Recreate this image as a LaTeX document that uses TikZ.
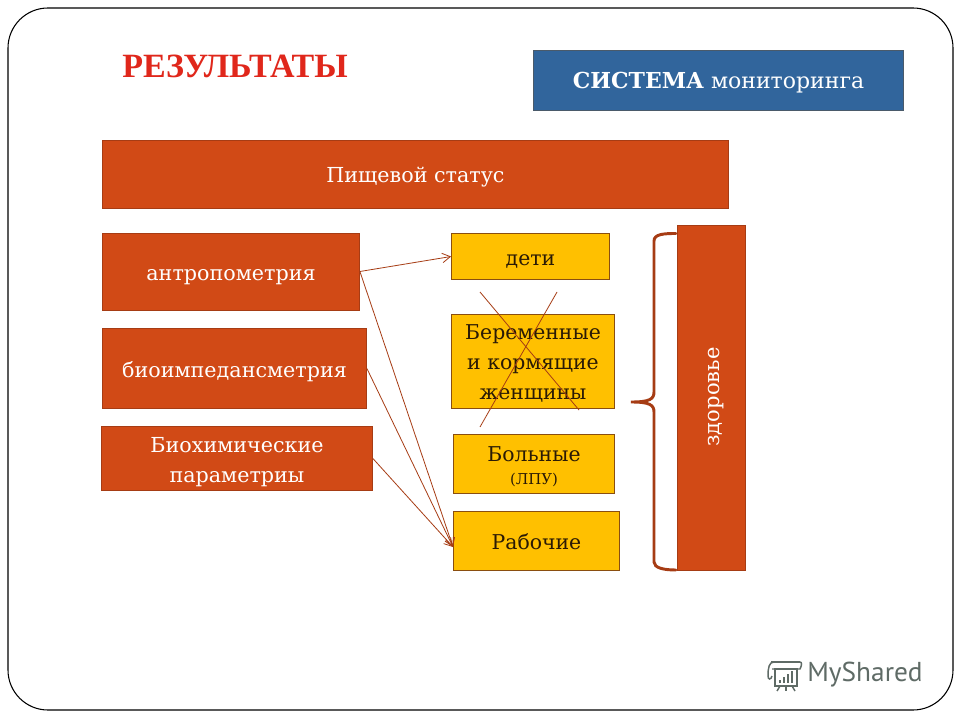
\documentclass[tikz,border=0pt]{standalone}
\usepackage{fontspec}
\setmainfont{DejaVu Serif}
\newfontfamily\titlefont{Liberation Serif}
\newfontfamily\logofont{PT Sans}
\usetikzlibrary{arrows.meta}
\definecolor{rust}{HTML}{D14A16}
\definecolor{rustline}{HTML}{A63C14}
\definecolor{amber}{HTML}{FFC000}
\definecolor{amberline}{HTML}{8A4E10}
\definecolor{steel}{HTML}{31659C}
\definecolor{steelline}{HTML}{4A5A6A}
\definecolor{titlered}{HTML}{E0271B}
\definecolor{logogray}{HTML}{5F6B66}
\definecolor{inktext}{HTML}{2A1A05}
\newcommand{\linesof}[1]{\raisebox{-5.8pt}[0pt][0pt]{\begin{tabular}{@{}c@{}}#1\end{tabular}}}
\tikzset{
  px/.style={x=0.75pt,y=-0.75pt},
  rustbox/.style={draw=rustline,line width=0.6pt,fill=rust,text=white,inner sep=0pt,font=\fontsize{15.5}{22.5}\selectfont},
  amberbox/.style={draw=amberline,line width=0.6pt,fill=amber,text=inktext,inner sep=0pt,font=\fontsize{15.3}{22.5}\selectfont},
  conn/.style={draw=rustline,line width=0.6pt,-{Straight Barb[length=6pt,width=7pt]}},
  crossline/.style={draw=rustline,line width=0.6pt},
  bracestroke/.style={draw=rustline,line width=2.2pt,line cap=round},
}
\begin{document}
\begin{tikzpicture}[px]
\useasboundingbox (0,0) rectangle (960,720);
\fill[white] (0,0) rectangle (960,720);
\draw[black,line width=0.8pt,rounded corners=30pt] (8,8) rectangle (953,710);

\node[text=titlered,font=\titlefont\fontsize{25.5}{30}\selectfont\bfseries] (title) at (235,66) {РЕЗУЛЬТАТЫ};
\node[draw=steelline,line width=0.6pt,fill=steel,text=white,inner sep=0pt,minimum width=277.5pt,minimum height=45pt,font=\fontsize{16.5}{22.5}\selectfont] (sys) at (718.5,80.5) {\linesof{\textbf{СИСТЕМА} мониторинга}};

\node[rustbox,minimum width=469.5pt,minimum height=51pt] (status) at (415.5,174) {\linesof{Пищевой статус}};
\node[rustbox,minimum width=192.75pt,minimum height=57.75pt] (anthro) at (231,271.5) {\linesof{антропометрия}};
\node[rustbox,minimum width=198pt,minimum height=60pt] (bio) at (234.5,368.5) {\linesof{биоимпедансметрия}};
\node[rustbox,minimum width=203.25pt,minimum height=48pt] (chem) at (237,458.5) {\linesof{Биохимические\\параметриы}};

\node[amberbox,minimum width=118.5pt,minimum height=34.5pt] (kids) at (530.5,256.5) {\linesof{дети}};
\node[amberbox,minimum width=122.25pt,minimum height=70.5pt] (preg) at (533,361) {\linesof{Беременные\\и кормящие\\женщины}};
\node[amberbox,minimum width=120.75pt,minimum height=44.25pt] (sick) at (534,464) {\linesof{Больные\\[-5pt]{\fontsize{11.2}{15}\selectfont (ЛПУ)}}};
\node[amberbox,minimum width=124.5pt,minimum height=44.25pt] (work) at (536.5,541) {\linesof{Рабочие}};

\node[rustbox,minimum width=51pt,minimum height=258.75pt] (health) at (711.5,398) {};
\node[rotate=90,text=white,font=\fontsize{15.8}{20}\selectfont] (healthlabel) at (716,397) {здоровье};

\coordinate (worktip) at (453,547);
\draw[conn] (anthro.east) -- (kids.west);
\draw[conn] (anthro.east) -- (worktip);
\draw[conn] (bio.east) -- (worktip);
\draw[conn] (chem.east) -- (worktip);

\coordinate (xa) at (480,292);
\coordinate (xb) at (579,410);
\coordinate (xc) at (557,292);
\coordinate (xd) at (480,427);
\draw[crossline] (xa) -- (xb);
\draw[crossline] (xc) -- (xd);

\draw[bracestroke] (676,233.5) .. controls (664,233.5) and (654,234) .. (654,241)
  -- (654,392) .. controls (654,399) and (650,402) .. (631,402)
  .. controls (650,402) and (654,405) .. (654,412)
  -- (654,562) .. controls (654,568) and (664,570) .. (676,570);

% logo
\begin{scope}[draw=logogray,line width=1.1pt]
  \draw (771,662) -- (800,662);
  \draw (774,662) .. controls (769,662) and (768,668) .. (768,676) .. controls (768,680) and (771,680) .. (772,676);
  \draw (772,669) -- (800,669) .. controls (802,665) and (802,662) .. (800,662);
  \draw (775,669) rectangle (797,686);
  \fill[logogray] (779,680) rectangle (781,683);
  \fill[logogray] (783,677) rectangle (785,683);
  \fill[logogray] (787,674) rectangle (789,683);
  \fill[logogray] (791,671) rectangle (793,683);
  \draw (780,686) -- (777,691);
  \draw (786,686) -- (786,691);
  \draw (792,686) -- (795,691);
\end{scope}
\node[text=logogray,font=\logofont\fontsize{20.5}{22}\selectfont] (logo) at (865,675) {MyShared};
\end{tikzpicture}
\end{document}
